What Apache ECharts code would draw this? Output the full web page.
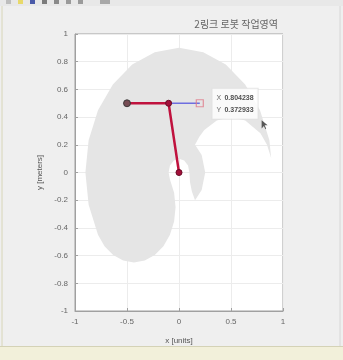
<!DOCTYPE html>
<html>
<head>
<meta charset="utf-8">
<script src="https://cdn.jsdelivr.net/npm/echarts@6/dist/echarts.min.js"></script>
<style>
html,body{margin:0;padding:0;background:#efefef;}
#c{width:343px;height:360px;}
</style>
</head>
<body>
<div id="c"></div>
<script>
// ---- data ----
const titleText = '2링크 로봇 작업영역';
const xName = 'x [units]';
const yName = 'y [meters]';
const xTickValues = [-1, -0.5, 0, 0.5, 1];
const yTickValues = [-1, -0.8, -0.6, -0.4, -0.2, 0, 0.2, 0.4, 0.6, 0.8, 1];

// workspace outline (gray region), estimated boundary points
const workspaceX = [0.900,0.869,0.779,0.636,0.450,0.233,0.000,-0.233,-0.450,-0.636,-0.779,-0.869,-0.900,-0.869,-0.779,
  -0.716,-0.633,-0.537,-0.433,-0.329,-0.233,-0.150,-0.087,-0.047,-0.033,-0.047,-0.087,
  -0.100,-0.087,-0.050,0.000,0.050,0.087,0.100,
  0.106,0.124,0.154,
  0.218,0.252,0.218,0.154,
  0.194,0.243,0.363,0.500,0.637,0.783,0.846,0.886];
const workspaceY = [0.000,0.233,0.450,0.636,0.779,0.869,0.900,0.869,0.779,0.636,0.450,0.233,0.000,-0.233,-0.450,
  -0.533,-0.596,-0.636,-0.650,-0.636,-0.596,-0.533,-0.450,-0.354,-0.250,-0.146,-0.050,
  0.000,0.050,0.087,0.100,0.087,0.050,0.000,
  -0.070,-0.137,-0.200,
  -0.126,0.000,0.126,0.200,
  0.257,0.306,0.376,0.400,0.376,0.283,0.200,0.104];

// path (blue) start -> target
const pathX = [-0.5, 0.2];
const pathY = [0.5, 0.5];
// robot arm: base, elbow, end effector
const armX = [0, -0.1, -0.5];
const armY = [0, 0.5, 0.5];
// data tip
const tipX = 0.804238;
const tipY = 0.372933;

const chart = echarts.init(document.getElementById('c'), null, {renderer: 'canvas'});
const font = 'Liberation Sans, Arial, sans-serif';

const wsData = workspaceX.map((x, i) => [x, workspaceY[i]]);

chart.setOption({
  backgroundColor: '#efefef',
  animation: false,
  title: {
    text: titleText, right: 60, top: 14,
    textStyle: {fontSize: 10, color: '#666', fontWeight: 'normal', fontFamily: 'Noto Sans CJK KR'}
  },
  grid: {left: 75, top: 34, width: 208, height: 277, show: true, backgroundColor: '#ffffff', borderColor: '#a0a0a0', borderWidth: 1},
  xAxis: {
    type: 'value', min: -1, max: 1, interval: 0.5,
    name: xName, nameLocation: 'middle', nameGap: 26,
    nameTextStyle: {fontSize: 8, color: '#555', fontFamily: font},
    axisLine: {show: true, onZero: false, lineStyle: {color: '#a0a0a0'}},
    axisTick: {show: true, inside: true, length: 3, lineStyle: {color: '#a0a0a0'}},
    axisLabel: {fontSize: 8, color: '#666', margin: 7, fontFamily: font,
      formatter: v => String(Math.round(v * 10) / 10)},
    splitLine: {show: true, lineStyle: {color: '#ececec', width: 1}}
  },
  yAxis: {
    type: 'value', min: -1, max: 1, interval: 0.2,
    name: yName, nameLocation: 'middle', nameGap: 21, nameRotate: 90,
    nameTextStyle: {fontSize: 8, color: '#555', fontFamily: font},
    axisLine: {show: true, onZero: false, lineStyle: {color: '#a0a0a0'}},
    axisTick: {show: true, inside: true, length: 3, lineStyle: {color: '#a0a0a0'}},
    axisLabel: {fontSize: 8, color: '#666', margin: 7, fontFamily: font,
      formatter: v => String(Math.round(v * 10) / 10)},
    splitLine: {show: true, lineStyle: {color: '#ececec', width: 1}}
  },
  series: [
    {
      type: 'custom',
      data: wsData,
      encode: {x: 0, y: 1},
      silent: true,
      z: 1,
      renderItem: function (params, api) {
        if (params.dataIndex !== 0) return;
        const pts = wsData.map(p => api.coord(p));
        return {type: 'polygon', shape: {points: pts}, style: {fill: '#e5e5e5', stroke: 'none'}};
      }
    },
    {
      type: 'line',
      data: pathX.map((x, i) => [x, pathY[i]]),
      lineStyle: {color: '#6e6ee0', width: 1.5},
      symbol: 'none',
      z: 3
    },
    {
      type: 'line',
      data: armX.map((x, i) => [x, armY[i]]),
      lineStyle: {color: '#c0123e', width: 2.5},
      symbol: 'circle', symbolSize: 6,
      itemStyle: {color: '#a3103a', borderColor: '#6a0a26', borderWidth: 1},
      z: 4
    },
    {
      type: 'scatter',
      data: [[pathX[0], pathY[0]]],
      symbol: 'circle', symbolSize: 7,
      itemStyle: {color: '#6a5a5a', borderColor: '#333', borderWidth: 1},
      z: 5
    },
    {
      type: 'scatter',
      data: [[pathX[1], pathY[1]]],
      symbol: 'rect', symbolSize: 7,
      itemStyle: {color: 'rgba(255,255,255,0)', borderColor: '#e07a8a', borderWidth: 1.2},
      z: 5
    },
    {
      type: 'scatter',
      data: [[tipX, tipY]],
      symbol: 'path://M0,0 L0,10 L3,7 L5,11 L6,10 L4,6 L8,6 Z',
      symbolSize: [6, 9],
      symbolOffset: [2, 4],
      itemStyle: {color: '#333'},
      z: 6,
      label: {
        show: true, position: 'left', distance: 4, offset: [0, -21],
        formatter: () => '{k|X} {v|' + tipX.toFixed(6) + '}\n{k|Y} {v|' + tipY.toFixed(6) + '}',
        backgroundColor: '#ffffff', borderColor: '#e0e0e0', borderWidth: 1,
        padding: [3, 4, 3, 4],
        rich: {
          k: {fontSize: 7, color: '#444', fontFamily: font, lineHeight: 11},
          v: {fontSize: 7, color: '#222', fontWeight: 'bold', fontFamily: font, lineHeight: 11}
        }
      }
    }
  ],
  graphic: [
    {type: 'rect', shape: {x: 0, y: 0, width: 343, height: 6}, style: {fill: '#e8e8e8'}},
    {type: 'rect', shape: {x: 6, y: 0, width: 5, height: 4}, style: {fill: '#bdbdbd'}},
    {type: 'rect', shape: {x: 18, y: 0, width: 5, height: 4}, style: {fill: '#e8d96a'}},
    {type: 'rect', shape: {x: 30, y: 0, width: 5, height: 4}, style: {fill: '#4a5aa8'}},
    {type: 'rect', shape: {x: 42, y: 0, width: 5, height: 4}, style: {fill: '#7c7c7c'}},
    {type: 'rect', shape: {x: 54, y: 0, width: 5, height: 4}, style: {fill: '#8a8a8a'}},
    {type: 'rect', shape: {x: 66, y: 0, width: 5, height: 4}, style: {fill: '#9a9a9a'}},
    {type: 'rect', shape: {x: 78, y: 0, width: 5, height: 4}, style: {fill: '#9a9a9a'}},
    {type: 'rect', shape: {x: 100, y: 0, width: 10, height: 4}, style: {fill: '#a8a8a8'}},
    {type: 'line', shape: {x1: 2, y1: 6, x2: 2, y2: 346}, style: {stroke: '#d8d6b8', lineWidth: 1}},
    {type: 'line', shape: {x1: 340, y1: 6, x2: 340, y2: 346}, style: {stroke: '#d6d6d6', lineWidth: 1}},
    {type: 'rect', shape: {x: 0, y: 347, width: 343, height: 13}, style: {fill: '#f2f0da'}},
    {type: 'line', shape: {x1: 0, y1: 346.5, x2: 343, y2: 346.5}, style: {stroke: '#d4d2b6', lineWidth: 1}}
  ]
});
</script>
</body>
</html>
